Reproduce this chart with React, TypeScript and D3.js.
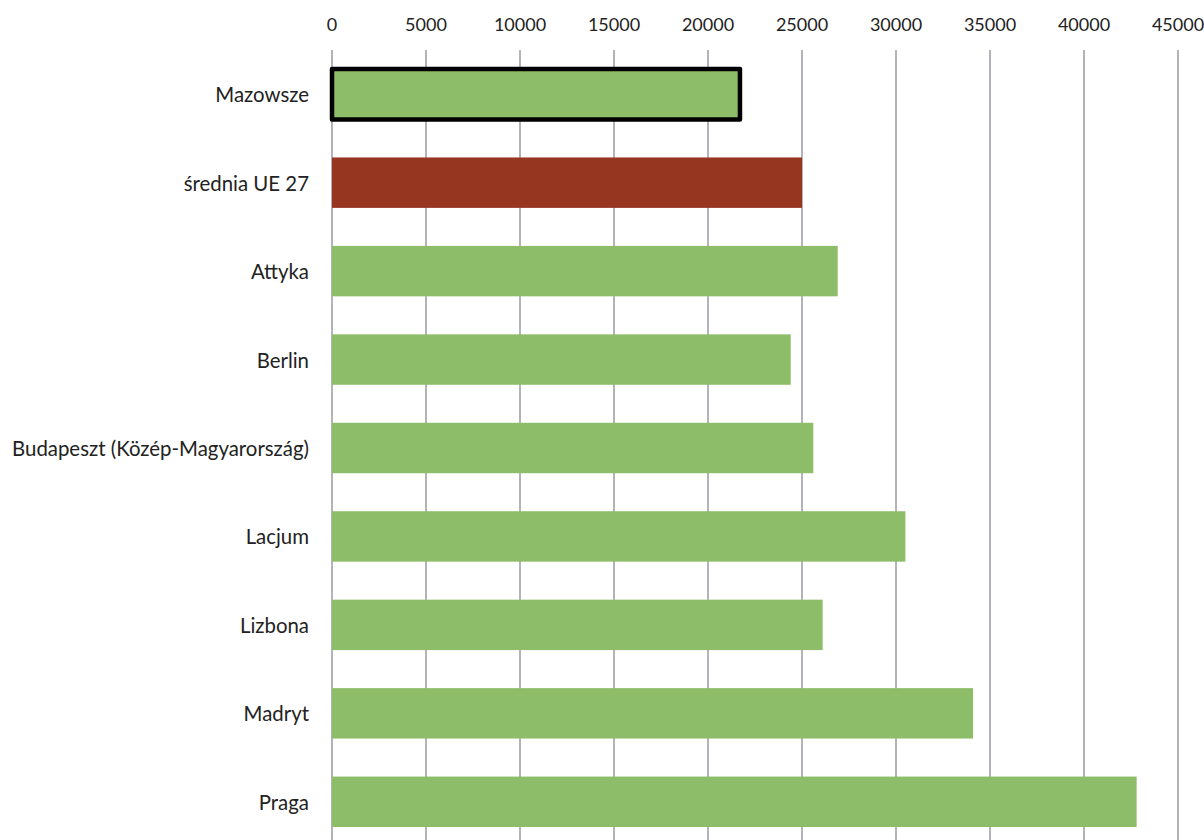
import React from "react";
import * as d3 from "d3";

const categories = [
  "Mazowsze",
  "średnia UE 27",
  "Attyka",
  "Berlin",
  "Budapeszt (Közép-Magyarország)",
  "Lacjum",
  "Lizbona",
  "Madryt",
  "Praga",
];
const values = [21700, 25000, 26900, 24400, 25600, 30500, 26100, 34100, 42800];
const highlight = ["Mazowsze"];
const average = ["średnia UE 27"];
const ticks = [0, 5000, 10000, 15000, 20000, 25000, 30000, 35000, 40000, 45000];

const W = 1204;
const H = 840;
const FONT = "Lato, 'Open Sans', sans-serif";

export default function App() {
  const x = d3.scaleLinear().domain([0, 45000]).range([332, 1178]);
  const y = d3
    .scaleBand<string>()
    .domain(categories)
    .range([50, 846])
    .paddingInner(0.43)
    .paddingOuter(0.215);

  return (
    <svg
      width={W}
      height={H}
      style={{ position: "absolute", left: 0, top: 0, background: "#fff" }}
    >
      {ticks.map((t) => (
        <g key={t}>
          <line
            x1={x(t)}
            x2={x(t)}
            y1={50}
            y2={H}
            stroke="#9a9ba3"
            strokeWidth={1.5}
          />
          <text
            x={x(t)}
            y={24}
            textAnchor="middle"
            dominantBaseline="central"
            fontFamily={FONT}
            fontSize={18}
            fill="#222"
          >
            {t}
          </text>
        </g>
      ))}
      {categories.map((c, i) => {
        const isHi = highlight.includes(c);
        const isAvg = average.includes(c);
        const by = y(c)!;
        const bh = y.bandwidth();
        return (
          <g key={c}>
            <rect
              x={x(0)}
              y={by}
              width={x(values[i]) - x(0)}
              height={bh}
              fill={isAvg ? "#963520" : "#8dbd68"}
              stroke={isHi ? "#000" : "none"}
              strokeWidth={isHi ? 4.5 : 0}
              strokeLinejoin="round"
            />
            <text
              x={309}
              y={by + bh / 2}
              textAnchor="end"
              dominantBaseline="central"
              fontFamily={FONT}
              fontSize={20.4}
              fill="#222"
            >
              {c}
            </text>
          </g>
        );
      })}
    </svg>
  );
}
